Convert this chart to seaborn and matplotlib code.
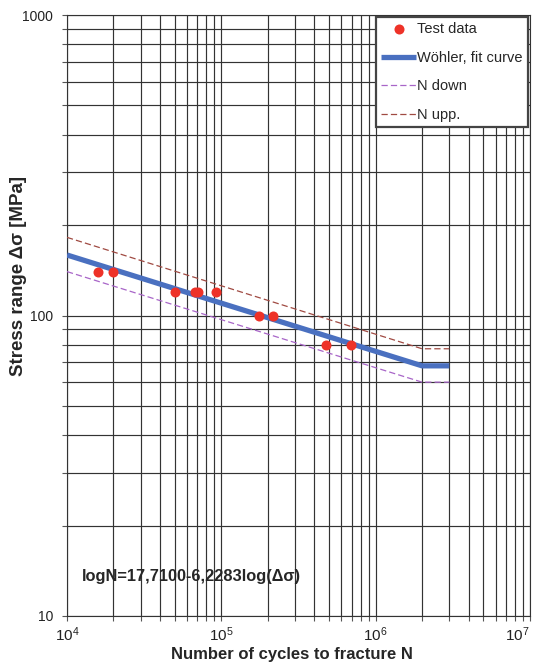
import matplotlib
matplotlib.use('Agg')
import matplotlib.pyplot as plt
import seaborn as sns
from matplotlib.ticker import LogLocator, NullFormatter


### DATA ###

# test results (cycles to fracture, stress range in MPa)
test_cycles = [1.6e4, 2.0e4, 5.0e4, 6.8e4, 7.1e4, 9.3e4, 1.76e5, 2.17e5, 4.75e5, 6.9e5]
test_stress = [140, 140, 120, 120, 120, 120, 100, 100, 80, 80]

# fit curve and scatter band vertices
curve_cycles = [1e4, 2e6, 3e6]
fit_stress = [159, 68, 68]
down_stress = [140, 60, 60]
upp_stress = [182, 77.5, 77.5]

equation_text = 'logN=17,7100-6,2283log(Δσ)'


### PLOT ###

sns.set_style('white')
plt.rcParams['font.family'] = ['Liberation Sans', 'DejaVu Sans']
plt.rcParams['mathtext.fontset'] = 'custom'
plt.rcParams['mathtext.rm'] = 'Liberation Sans'

fig = plt.figure(figsize=(5.38, 6.71), dpi=100)
ax = fig.add_axes([0.1245, 0.082, 0.8605, 0.8956])

sns.scatterplot(
    x=test_cycles,
    y=test_stress,
    color='#ee3228',
    s=52,
    linewidth=0,
    zorder=5,
    label='Test data',
    ax=ax
)

sns.lineplot(
    x=curve_cycles,
    y=fit_stress,
    color='#4a70c0',
    linewidth=3.8,
    solid_capstyle='butt',
    zorder=4,
    label='Wöhler, fit curve',
    ax=ax
)

sns.lineplot(
    x=curve_cycles,
    y=down_stress,
    color='#a865c8',
    linewidth=0.9,
    linestyle=(0, (5, 2.5)),
    zorder=3,
    label='N down',
    ax=ax
)

sns.lineplot(
    x=curve_cycles,
    y=upp_stress,
    color='#a04a42',
    linewidth=0.9,
    linestyle=(0, (5, 2.5)),
    zorder=3,
    label='N upp.',
    ax=ax
)

ax.set_xscale('log')
ax.set_yscale('log')
ax.set_xlim(1e4, 1e7)
ax.set_ylim(10, 1000)

ax.xaxis.set_major_locator(LogLocator(base=10, numticks=10))
ax.xaxis.set_minor_locator(LogLocator(base=10, subs=range(2, 10), numticks=100))
ax.yaxis.set_major_locator(LogLocator(base=10, numticks=10))
ax.yaxis.set_minor_locator(LogLocator(base=10, subs=range(2, 10), numticks=100))
ax.xaxis.set_minor_formatter(NullFormatter())
ax.yaxis.set_minor_formatter(NullFormatter())
ax.set_yticks([10, 100, 1000])
ax.set_yticklabels(['10', '100', '1000'])

ax.grid(which='both', color='#333333', linewidth=0.85)
ax.set_axisbelow(True)

ax.tick_params(which='both', direction='out', length=3.5, width=0.8,
               color='#555555', labelcolor='#222222',
               left=True, bottom=True)
ax.tick_params(axis='y', labelsize=10, pad=6.5)
ax.tick_params(axis='x', labelsize=11)

# keep the last decade label inside the picture
fig.canvas.draw()
for tick in ax.xaxis.get_major_ticks():
    if abs(tick.get_loc() - 1e7) < 1:
        tick.label1.set_horizontalalignment('right')
        tick.label1.set_x(1e7)

for spine in ax.spines.values():
    spine.set_color('#333333')
    spine.set_linewidth(0.8)

ax.set_xlabel('Number of cycles to fracture N', fontsize=12,
              fontweight='bold')
ax.set_ylabel('Stress range Δσ [MPa]', fontsize=13.5,
              fontweight='bold')
ax.xaxis.set_label_coords(0.486, -0.052)
ax.yaxis.set_label_coords(-0.086, 0.566)

ax.text(
    0.032, 0.065,
    equation_text,
    transform=ax.transAxes,
    fontsize=11.8,
    fontweight='bold',
    va='center',
    ha='left'
)

handles, labels = ax.get_legend_handles_labels()
order = ['Test data', 'Wöhler, fit curve', 'N down', 'N upp.']
handles = [handles[labels.index(name)] for name in order]

leg = ax.legend(
    handles,
    order,
    loc='upper right',
    bbox_to_anchor=(1, 1),
    borderaxespad=0.15,
    fontsize=10.5,
    handlelength=2.4,
    handletextpad=0.05,
    labelspacing=1.0,
    borderpad=0.35,
    fancybox=False,
    framealpha=1,
    edgecolor='#444444'
)
leg.get_frame().set_linewidth(1.6)

fig.savefig('out.png', dpi=100)
